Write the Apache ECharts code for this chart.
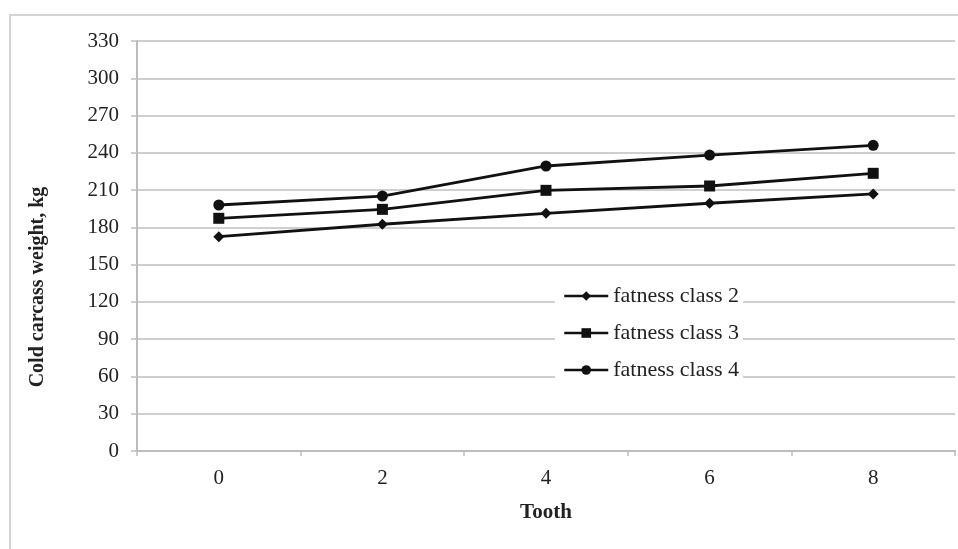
<!DOCTYPE html>
<html>
<head>
<meta charset="utf-8">
<script src="https://cdn.jsdelivr.net/npm/echarts@6/dist/echarts.min.js"></script>
<style>
  html, body { margin: 0; padding: 0; background: #fff; }
  #chart { width: 958px; height: 549px; }
</style>
</head>
<body>
<div id="chart"></div>
<script>
// Tooth count categories
const teeth = ['0', '2', '4', '6', '8'];

// Cold carcass weight (kg) per fatness class
const fatnessClass2 = [172.5, 182.5, 191.3, 199.4, 206.9];
const fatnessClass3 = [187.3, 194.5, 209.8, 213.3, 223.5];
const fatnessClass4 = [198.0, 205.2, 229.4, 238.2, 246.0];

const seriesNames = ['fatness class 2', 'fatness class 3', 'fatness class 4'];
const seriesSymbols = ['diamond', 'rect', 'circle'];
const seriesSizes = [11, 11, 11];

const yTitle = 'Cold carcass weight, kg';

const FONT = '"Liberation Serif", "Times New Roman", serif';
const GRAY = '#bdbdbd';

const chart = echarts.init(document.getElementById('chart'), null, { renderer: 'canvas' });

const seriesData = [fatnessClass2, fatnessClass3, fatnessClass4];

chart.setOption({
  animation: false,
  backgroundColor: '#fff',
  textStyle: { fontFamily: FONT },
  graphic: [{
    type: 'rect',
    shape: { x: 10, y: 15, width: 1000, height: 600 },
    style: { fill: 'none', stroke: '#d4d4d4', lineWidth: 2 },
    z: -10
  }, {
    // vertical axis title, drawn rotated beside the value axis
    type: 'text',
    x: 38,
    y: 287,
    rotation: Math.PI / 2,
    style: {
      text: yTitle,
      font: 'bold 20px ' + FONT,
      fill: '#222',
      align: 'center',
      verticalAlign: 'middle'
    }
  }],
  grid: { left: 137, right: 3, top: 41, bottom: 98 },
  legend: {
    orient: 'vertical',
    left: 555,
    top: 279,
    backgroundColor: '#fff',
    padding: [6, 4, 6, 8],
    itemGap: 15,
    itemWidth: 44,
    itemHeight: 12,
    data: seriesNames,
    lineStyle: { width: 2.5, color: '#111' },
    textStyle: { fontFamily: FONT, fontSize: 22, color: '#222' }
  },
  xAxis: {
    type: 'category',
    data: teeth,
    boundaryGap: true,
    name: 'Tooth',
    nameLocation: 'middle',
    nameGap: 51,
    nameTextStyle: { fontFamily: FONT, fontSize: 21, fontWeight: 'bold', color: '#222' },
    axisLine: { lineStyle: { color: GRAY, width: 2 } },
    axisTick: { show: true, length: 5, lineStyle: { color: GRAY, width: 1.5 } },
    axisLabel: { fontFamily: FONT, fontSize: 21, color: '#222', margin: 17 },
    splitLine: { show: false }
  },
  yAxis: {
    type: 'value',
    min: 0,
    max: 330,
    interval: 30,
    axisLine: { show: true, lineStyle: { color: GRAY, width: 2 } },
    axisTick: { show: true, length: 6, lineStyle: { color: GRAY, width: 1.5 } },
    axisLabel: { fontFamily: FONT, fontSize: 21, color: '#222', margin: 18 },
    splitLine: { show: true, lineStyle: { color: '#cfcfcf', width: 2 } }
  },
  series: seriesData.map((d, i) => ({
    name: seriesNames[i],
    type: 'line',
    data: d,
    symbol: seriesSymbols[i],
    symbolSize: seriesSizes[i],
    showSymbol: true,
    color: '#111',
    lineStyle: { color: '#111', width: 2.8 },
    itemStyle: { color: '#111' }
  }))
});
</script>
</body>
</html>
